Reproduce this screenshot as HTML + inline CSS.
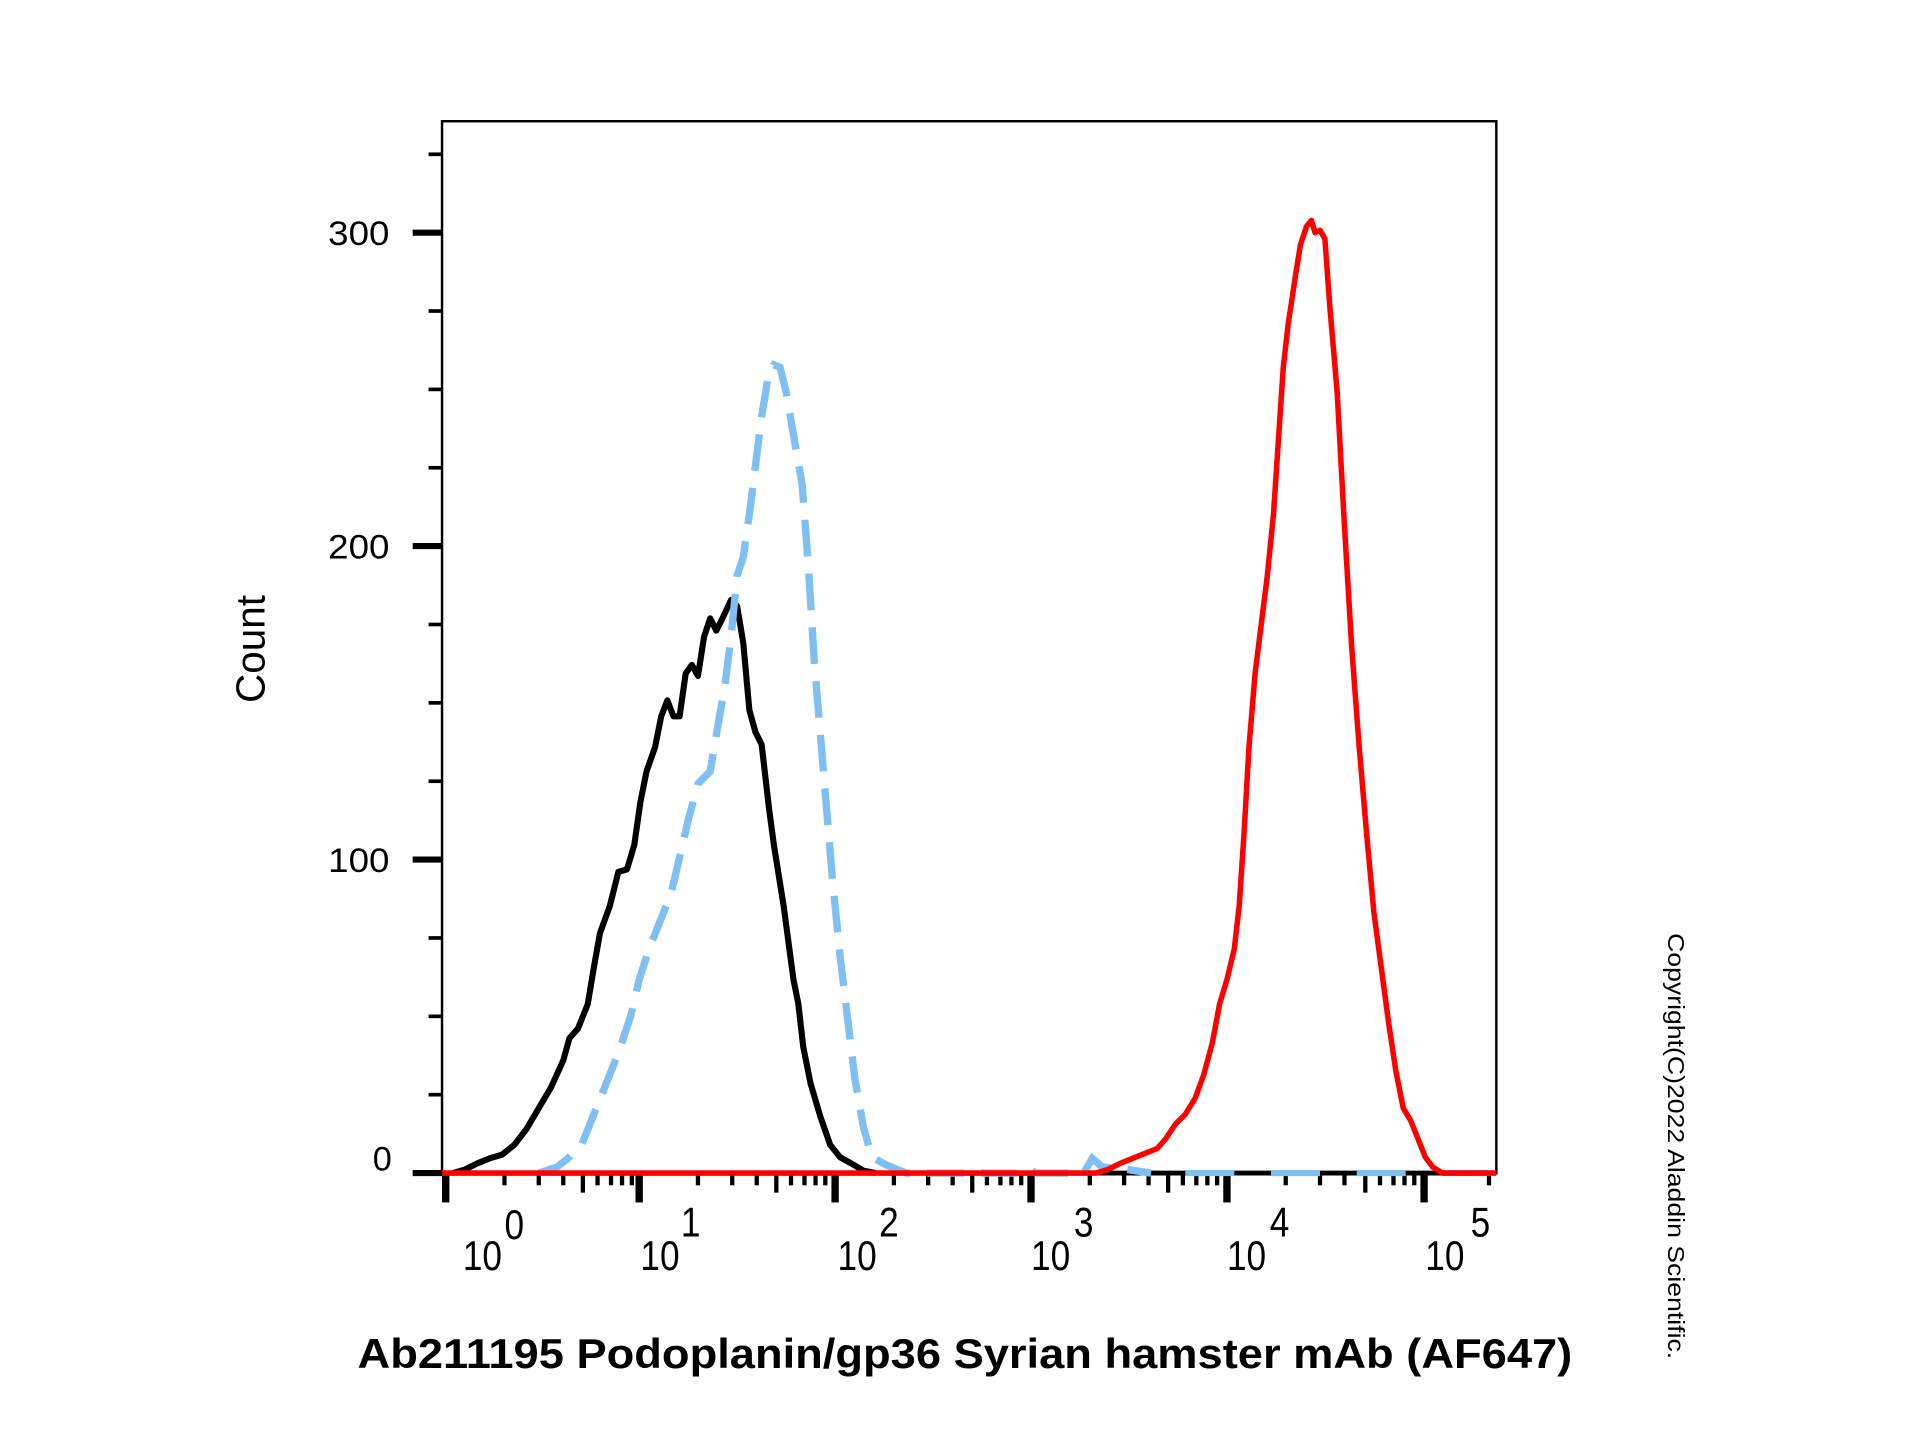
<!DOCTYPE html>
<html><head><meta charset="utf-8"><style>
html,body{margin:0;padding:0;background:#fff;}
svg{display:block;}
text{font-family:"Liberation Sans",Arial,sans-serif;fill:#000;}
</style></head><body>
<svg width="1920" height="1440" viewBox="0 0 1568 1176" preserveAspectRatio="none" xmlns="http://www.w3.org/2000/svg">
<rect x="0" y="0" width="1568" height="1176" fill="#fff"/>
<rect x="361" y="99" width="861" height="859" fill="none" stroke="#000" stroke-width="2"/>
<g stroke="#000">
<line x1="337" y1="958" x2="361" y2="958" stroke-width="5"/>
<line x1="337" y1="702" x2="361" y2="702" stroke-width="5"/>
<line x1="337" y1="446" x2="361" y2="446" stroke-width="5"/>
<line x1="337" y1="190" x2="361" y2="190" stroke-width="5"/>
<g stroke-width="3">
<line x1="350" y1="894" x2="361" y2="894"/><line x1="350" y1="830" x2="361" y2="830"/><line x1="350" y1="766" x2="361" y2="766"/>
<line x1="350" y1="638" x2="361" y2="638"/><line x1="350" y1="574" x2="361" y2="574"/><line x1="350" y1="510" x2="361" y2="510"/>
<line x1="350" y1="382" x2="361" y2="382"/><line x1="350" y1="318" x2="361" y2="318"/><line x1="350" y1="254" x2="361" y2="254"/>
<line x1="350" y1="126" x2="361" y2="126"/>
</g>
</g>
<g font-size="28" text-anchor="end">
<text x="318" y="200" textLength="50" lengthAdjust="spacingAndGlyphs">300</text>
<text x="318" y="456" textLength="50" lengthAdjust="spacingAndGlyphs">200</text>
<text x="318" y="712" textLength="50" lengthAdjust="spacingAndGlyphs">100</text>
<text x="320" y="956">0</text>
</g>
<text x="0" y="0" font-size="33" text-anchor="middle" transform="translate(216,530) rotate(-90)">Count</text>
<line x1="361" y1="958" x2="1222" y2="958" stroke="#000" stroke-width="4"/>
<g stroke="#000">
<g stroke-width="6">
<line x1="364" y1="958" x2="364" y2="982"/><line x1="522" y1="958" x2="522" y2="982"/><line x1="682" y1="958" x2="682" y2="982"/>
<line x1="842" y1="958" x2="842" y2="982"/><line x1="1002" y1="958" x2="1002" y2="982"/><line x1="1163" y1="958" x2="1163" y2="982"/>
</g>
<g stroke-width="3.5">
<line x1="412" y1="958" x2="412" y2="968"/><line x1="440" y1="958" x2="440" y2="968"/><line x1="460" y1="958" x2="460" y2="968"/>
<line x1="476" y1="958" x2="476" y2="974"/><line x1="488" y1="958" x2="488" y2="968"/><line x1="499" y1="958" x2="499" y2="968"/><line x1="508" y1="958" x2="508" y2="968"/><line x1="516" y1="958" x2="516" y2="968"/>
<line x1="570" y1="958" x2="570" y2="968"/><line x1="598" y1="958" x2="598" y2="968"/><line x1="618" y1="958" x2="618" y2="968"/>
<line x1="634" y1="958" x2="634" y2="974"/><line x1="646" y1="958" x2="646" y2="968"/><line x1="657" y1="958" x2="657" y2="968"/><line x1="666" y1="958" x2="666" y2="968"/><line x1="674" y1="958" x2="674" y2="968"/>
<line x1="730" y1="958" x2="730" y2="968"/><line x1="758" y1="958" x2="758" y2="968"/><line x1="778" y1="958" x2="778" y2="968"/>
<line x1="794" y1="958" x2="794" y2="974"/><line x1="806" y1="958" x2="806" y2="968"/><line x1="817" y1="958" x2="817" y2="968"/><line x1="826" y1="958" x2="826" y2="968"/><line x1="834" y1="958" x2="834" y2="968"/>
<line x1="890" y1="958" x2="890" y2="968"/><line x1="918" y1="958" x2="918" y2="968"/><line x1="938" y1="958" x2="938" y2="968"/>
<line x1="954" y1="958" x2="954" y2="974"/><line x1="966" y1="958" x2="966" y2="968"/><line x1="977" y1="958" x2="977" y2="968"/><line x1="986" y1="958" x2="986" y2="968"/><line x1="994" y1="958" x2="994" y2="968"/>
<line x1="1050" y1="958" x2="1050" y2="968"/><line x1="1078" y1="958" x2="1078" y2="968"/><line x1="1098" y1="958" x2="1098" y2="968"/>
<line x1="1115" y1="958" x2="1115" y2="974"/><line x1="1127" y1="958" x2="1127" y2="968"/><line x1="1138" y1="958" x2="1138" y2="968"/><line x1="1147" y1="958" x2="1147" y2="968"/><line x1="1155" y1="958" x2="1155" y2="968"/>
<line x1="1216" y1="958" x2="1216" y2="968"/>
</g>
</g>
<g font-size="34">
<text x="378" y="1037" textLength="32" lengthAdjust="spacingAndGlyphs">10</text><text x="412" y="1012" textLength="16" lengthAdjust="spacingAndGlyphs">0</text>
<text x="523" y="1037" textLength="32" lengthAdjust="spacingAndGlyphs">10</text><text x="556" y="1010" textLength="16" lengthAdjust="spacingAndGlyphs">1</text>
<text x="684" y="1037" textLength="32" lengthAdjust="spacingAndGlyphs">10</text><text x="718" y="1010" textLength="16" lengthAdjust="spacingAndGlyphs">2</text>
<text x="842" y="1037" textLength="32" lengthAdjust="spacingAndGlyphs">10</text><text x="877" y="1010" textLength="16" lengthAdjust="spacingAndGlyphs">3</text>
<text x="1002" y="1037" textLength="32" lengthAdjust="spacingAndGlyphs">10</text><text x="1037" y="1010" textLength="16" lengthAdjust="spacingAndGlyphs">4</text>
<text x="1164" y="1037" textLength="32" lengthAdjust="spacingAndGlyphs">10</text><text x="1201" y="1010" textLength="16" lengthAdjust="spacingAndGlyphs">5</text>
</g>
<polyline fill="none" stroke="#80bff2" stroke-width="5" stroke-dasharray="40,30" points="968,958 1222,958"/>
<polyline fill="none" stroke="#000" stroke-width="5" stroke-linejoin="round" points="370,958 380,955 390,950 400,946 410,943 420,935 430,922 440,905 450,888 460,866 465,848 472,840 480,820 485,790 490,762 498,740 505,712 512,710 518,690 523,655 528,630 535,610 540,585 545,572 550,585 555,585 560,550 565,543 570,552 575,520 580,505 585,515 590,505 597,490 602,495 607,525 612,580 617,598 622,608 628,660 632,690 640,740 648,800 652,820 656,855 662,885 670,912 678,935 686,945 695,950 705,956 715,958"/>
<polyline fill="none" stroke="#80bff2" stroke-width="6" stroke-dasharray="30,14" points="440,958 455,953 465,945 475,935 485,910 495,885 505,860 515,830 522,800 530,775 540,750 548,730 555,700 562,670 570,640 580,630 585,600 592,560 597,520 602,470 607,455 612,420 617,380 622,340 627,310 632,298 637,300 642,320 648,355 655,395 660,460 665,540 670,600 675,660 680,720 686,780 692,830 698,880 705,920 712,945 725,952 740,958 830,958 838,953 846,958 885,958 892,946 900,953 920,955 940,958"/>
<polyline fill="none" stroke="#ff0000" stroke-width="4.5" stroke-linejoin="round" points="361,958 895,958 905,955 915,950 925,946 935,942 945,938 952,930 960,918 968,910 976,897 983,878 990,852 996,820 1002,800 1008,775 1012,740 1016,680 1020,610 1025,550 1030,510 1035,470 1040,420 1044,360 1048,300 1052,265 1058,225 1062,200 1067,185 1071,180 1074,190 1078,188 1082,195 1086,250 1092,320 1098,430 1104,530 1110,610 1116,680 1122,745 1128,790 1134,835 1140,875 1146,905 1152,915 1158,930 1164,945 1170,953 1178,958 1222,958"/>
<text x="788" y="1117" font-size="34" font-weight="bold" text-anchor="middle" textLength="992" lengthAdjust="spacingAndGlyphs">Ab211195 Podoplanin/gp36 Syrian hamster mAb (AF647)</text>
<text x="0" y="0" font-size="19" text-anchor="middle" textLength="348" lengthAdjust="spacingAndGlyphs" transform="translate(1362,936) rotate(90)">Copyright(C)2022 Aladdin Scientific.</text>
</svg>
</body></html>
